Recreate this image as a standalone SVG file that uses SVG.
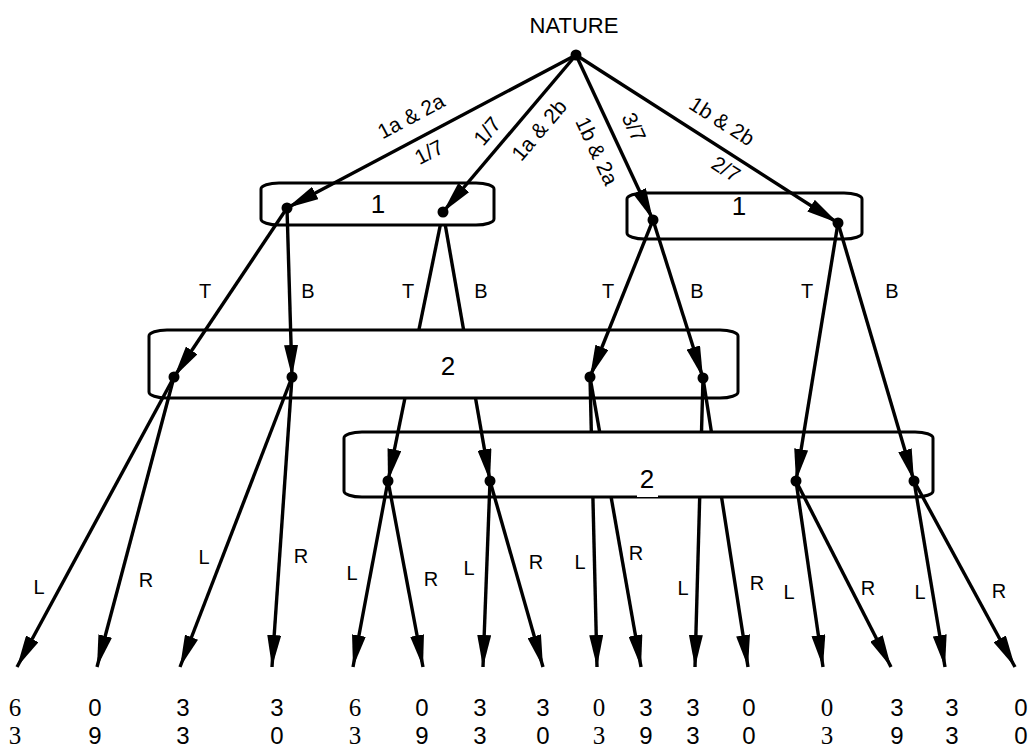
<svg xmlns="http://www.w3.org/2000/svg" width="1028" height="747" viewBox="0 0 1028 747">
<style>
.box{fill:#fff;stroke:#000;stroke-width:3}
.e{stroke:#000;stroke-width:3.4;fill:none;marker-end:url(#ah)}
.dot{fill:#000}
text{font-family:"Liberation Sans",Arial,sans-serif;fill:#000}
.lab{font-size:20px;text-anchor:middle}
.rl{font-size:21px;text-anchor:middle}
.set{font-size:26px;text-anchor:middle}
.pay{font-size:24px;text-anchor:middle}
.ser{font-family:"Liberation Serif","Times New Roman",serif;font-size:25px}
</style>
<defs>
<marker id="ah" viewBox="0 0 32 14" refX="32" refY="7" markerWidth="32" markerHeight="14" markerUnits="userSpaceOnUse" orient="auto">
<path d="M0,0L32,7L0,14z" fill="#000"/>
</marker>
<clipPath id="noLow"><path clip-rule="evenodd" d="M0,0H1028V747H0Z M344,432H933V497H344Z"/></clipPath>
</defs>

<g id="infoset-2-lower">
<rect class="box" x="344" y="432" width="589" height="65" rx="18" ry="6"/>
<rect x="637" y="463" width="21" height="34" fill="#fff"/>
<text class="set" x="647" y="488">2</text>
</g>

<g id="connectors-under">
<line class="e" x1="443" y1="212" x2="388" y2="481"/>
<line class="e" x1="443" y1="212" x2="490" y2="481"/>
</g>

<g id="infoset-2-upper">
<rect class="box" x="149" y="330" width="589" height="68" rx="18" ry="6"/>
<text class="set" x="448" y="375">2</text>
</g>

<g id="infoset-1-left">
<rect class="box" x="261" y="183" width="233" height="42" rx="18" ry="6"/>
<text class="set" x="378" y="213">1</text>
</g>
<g id="infoset-1-right">
<rect class="box" x="627" y="193" width="235" height="46" rx="18" ry="6"/>
<text class="set" x="739" y="215">1</text>
</g>

<g id="connectors">
<line class="e" x1="576" y1="55" x2="287" y2="208"/>
<line class="e" x1="576" y1="55" x2="443" y2="212"/>
<line class="e" x1="576" y1="55" x2="653" y2="220"/>
<line class="e" x1="576" y1="55" x2="838" y2="223"/>
<line class="e" x1="287" y1="208" x2="174" y2="377"/>
<line class="e" x1="287" y1="208" x2="292" y2="377"/>
<line class="e" x1="653" y1="220" x2="590" y2="377"/>
<line class="e" x1="653" y1="220" x2="703" y2="378"/>
<line class="e" x1="838" y1="223" x2="796" y2="481"/>
<line class="e" x1="838" y1="223" x2="914" y2="481"/>
<line class="e" x1="174" y1="377" x2="17" y2="667"/>
<line class="e" x1="174" y1="377" x2="97" y2="667"/>
<line class="e" x1="292" y1="377" x2="180" y2="667"/>
<line class="e" x1="292" y1="377" x2="272" y2="667"/>
<g clip-path="url(#noLow)">
<line class="e" x1="590" y1="377" x2="597" y2="667"/>
<line class="e" x1="590" y1="377" x2="641" y2="667"/>
<line class="e" x1="703" y1="378" x2="695" y2="667"/>
<line class="e" x1="703" y1="378" x2="748" y2="667"/>
</g>
<line class="e" x1="388" y1="481" x2="353" y2="667"/>
<line class="e" x1="388" y1="481" x2="423" y2="667"/>
<line class="e" x1="490" y1="481" x2="483" y2="667"/>
<line class="e" x1="490" y1="481" x2="543" y2="667"/>
<line class="e" x1="796" y1="481" x2="823" y2="667"/>
<line class="e" x1="796" y1="481" x2="891" y2="667"/>
<line class="e" x1="914" y1="481" x2="945" y2="667"/>
<line class="e" x1="914" y1="481" x2="1015" y2="667"/>
</g>

<g id="nature">
<circle class="dot" cx="576" cy="55" r="5.5"/>
<text x="574" y="33" style="font-size:22px;text-anchor:middle">NATURE</text>
</g>
<g id="nodes">
<circle class="dot" cx="287" cy="208" r="5.5"/>
<circle class="dot" cx="443" cy="212" r="5.5"/>
<circle class="dot" cx="653" cy="220" r="5.5"/>
<circle class="dot" cx="838" cy="223" r="5.5"/>
<circle class="dot" cx="174" cy="377" r="5.5"/>
<circle class="dot" cx="292" cy="377" r="5.5"/>
<circle class="dot" cx="590" cy="377" r="5.5"/>
<circle class="dot" cx="703" cy="378" r="5.5"/>
<circle class="dot" cx="388" cy="481" r="5.5"/>
<circle class="dot" cx="490" cy="481" r="5.5"/>
<circle class="dot" cx="796" cy="481" r="5.5"/>
<circle class="dot" cx="914" cy="481" r="5.5"/>
</g>

<g id="edge-labels">
<text class="rl" transform="translate(411,116) rotate(-27.9)" dy="0.35em">1a &amp; 2a</text>
<text class="rl" transform="translate(429,152) rotate(-27.9)" dy="0.35em">1/7</text>
<text class="rl" transform="translate(487,131) rotate(-49.7)" dy="0.35em">1/7</text>
<text class="rl" transform="translate(539,130) rotate(-49.7)" dy="0.35em">1a &amp; 2b</text>
<text class="rl" transform="translate(597,151) rotate(65)" dy="0.35em">1b &amp; 2a</text>
<text class="rl" transform="translate(634,127) rotate(65)" dy="0.35em">3/7</text>
<text class="rl" transform="translate(722,121) rotate(32.7)" dy="0.35em">1b &amp; 2b</text>
<text class="rl" transform="translate(726,169) rotate(32.7)" dy="0.35em">2/7</text>
<text class="lab" x="205" y="298">T</text>
<text class="lab" x="308" y="298">B</text>
<text class="lab" x="408" y="298">T</text>
<text class="lab" x="481" y="298">B</text>
<text class="lab" x="608" y="298">T</text>
<text class="lab" x="697" y="298">B</text>
<text class="lab" x="807" y="298">T</text>
<text class="lab" x="892" y="298">B</text>
<text class="lab" x="39" y="594">L</text>
<text class="lab" x="146" y="587">R</text>
<text class="lab" x="204" y="564">L</text>
<text class="lab" x="301" y="563">R</text>
<text class="lab" x="352" y="580">L</text>
<text class="lab" x="431" y="586">R</text>
<text class="lab" x="469" y="575">L</text>
<text class="lab" x="536" y="569">R</text>
<text class="lab" x="580" y="569">L</text>
<text class="lab" x="636" y="560">R</text>
<text class="lab" x="683" y="595">L</text>
<text class="lab" x="757" y="590">R</text>
<text class="lab" x="789" y="599">L</text>
<text class="lab" x="868" y="595">R</text>
<text class="lab" x="920" y="599">L</text>
<text class="lab" x="999" y="598">R</text>
</g>

<g id="payoffs">
<text class="pay ser" x="15" y="716">6</text><text class="pay ser" x="15" y="744">3</text>
<text class="pay" x="95" y="716">0</text><text class="pay" x="95" y="744">9</text>
<text class="pay" x="183" y="716">3</text><text class="pay" x="183" y="744">3</text>
<text class="pay" x="277" y="716">3</text><text class="pay" x="277" y="744">0</text>
<text class="pay ser" x="355" y="716">6</text><text class="pay ser" x="355" y="744">3</text>
<text class="pay" x="422" y="716">0</text><text class="pay" x="422" y="744">9</text>
<text class="pay" x="480" y="716">3</text><text class="pay" x="480" y="744">3</text>
<text class="pay" x="543" y="716">3</text><text class="pay" x="543" y="744">0</text>
<text class="pay ser" x="599" y="716">0</text><text class="pay ser" x="599" y="744">3</text>
<text class="pay" x="646" y="716">3</text><text class="pay" x="646" y="744">9</text>
<text class="pay" x="693" y="716">3</text><text class="pay" x="693" y="744">3</text>
<text class="pay" x="749" y="716">0</text><text class="pay" x="749" y="744">0</text>
<text class="pay ser" x="827" y="716">0</text><text class="pay ser" x="827" y="744">3</text>
<text class="pay" x="897" y="716">3</text><text class="pay" x="897" y="744">9</text>
<text class="pay" x="952" y="716">3</text><text class="pay" x="952" y="744">3</text>
<text class="pay" x="1021" y="716">0</text><text class="pay" x="1021" y="744">0</text>
</g>
</svg>
